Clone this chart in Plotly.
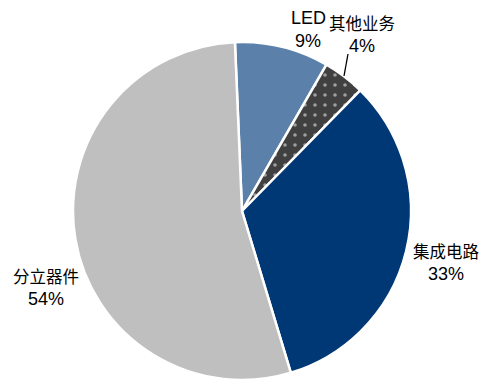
import plotly.graph_objects as go

# Revenue mix by business segment
segments = ["LED", "其他业务", "集成电路", "分立器件"]
shares = [9, 4, 33, 54]
colors = ["#5b80aa", "#404040", "#003876", "#bfbfbf"]
patterns = ["", ".", "", ""]

W, H = 491, 381
cx, cy, r = 242, 211, 169  # pie centre and radius in pixels (y from top)

fig = go.Figure(go.Pie(
    labels=segments,
    values=shares,
    sort=False,
    direction="clockwise",
    rotation=-2.4,
    marker=dict(
        colors=colors,
        line=dict(color="white", width=2.5),
        pattern=dict(shape=patterns, fgcolor="white", bgcolor=colors,
                     size=10, solidity=0.1, fillmode="overlay"),
    ),
    textinfo="none",
    hoverinfo="label+percent",
    showlegend=False,
    domain=dict(x=[(cx - r) / W, (cx + r) / W],
                y=[(H - cy - r) / H, (H - cy + r) / H]),
))

total = sum(shares)
label_pos = {
    "LED": (308, 29),
    "其他业务": (362, 34),
    "集成电路": (446, 262),
    "分立器件": (46, 287),
}
num_font = dict(family="Liberation Sans, Arial", size=18, color="black")
cjk_font = dict(family="Noto Sans CJK SC", size=16.5, color="black")

annotations = []
for name, v in zip(segments, shares):
    x, y = label_pos[name]
    pct = f"{round(100 * v / total)}%"
    name_font = num_font if name.isascii() else cjk_font
    annotations.append(dict(x=x / W, y=1 - (y - 11) / H, xref="paper", yref="paper",
                            text=name, showarrow=False, font=name_font,
                            xanchor="center", yanchor="middle"))
    annotations.append(dict(x=x / W, y=1 - (y + 12) / H, xref="paper", yref="paper",
                            text=pct, showarrow=False, font=num_font,
                            xanchor="center", yanchor="middle"))

fig.update_layout(
    width=W, height=H,
    margin=dict(l=0, r=0, t=0, b=0),
    paper_bgcolor="white",
    plot_bgcolor="white",
    annotations=annotations,
    shapes=[dict(type="line", xref="paper", yref="paper",
                 x0=348 / W, y0=1 - 54 / H, x1=344 / W, y1=1 - 76 / H,
                 line=dict(color="black", width=1.3))],
)

fig.write_html("out.html")
